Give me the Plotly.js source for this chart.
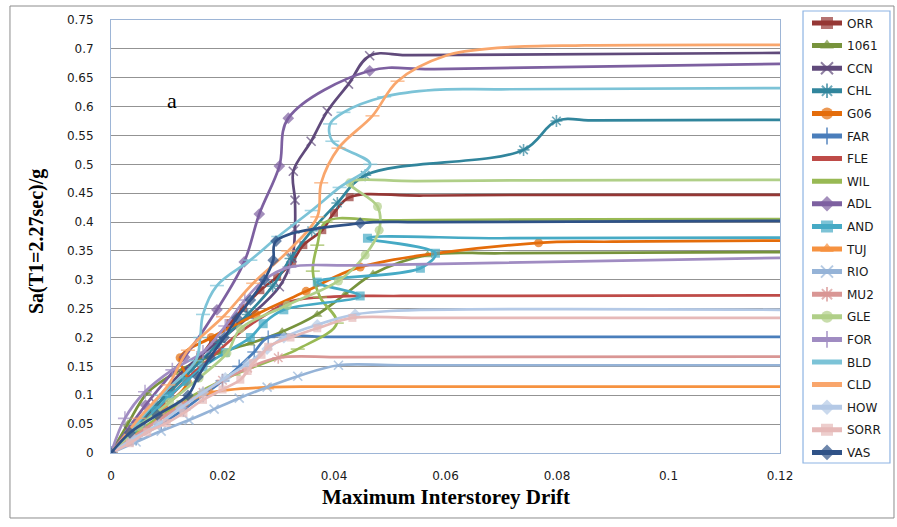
<!DOCTYPE html>
<html>
<head>
<meta charset="utf-8">
<script src="https://cdn.plot.ly/plotly-3.0.1.min.js"></script>
<style>
  html, body { margin: 0; padding: 0; background: #ffffff; }
  #chart { width: 897px; height: 527px; }
</style>
</head>
<body>
<div id="chart"></div>
<script>
// Incremental dynamic analysis curves: spectral acceleration vs. maximum interstorey drift.
// Each record lists its analysis steps followed by points along the collapse plateau.

const xTickVals = [0, 0.02, 0.04, 0.06, 0.08, 0.1, 0.12];
const xTickText = ['0', '0.02', '0.04', '0.06', '0.08', '0.1', '0.12'];
const yTickVals = [0, 0.05, 0.1, 0.15, 0.2, 0.25, 0.3, 0.35, 0.4, 0.45, 0.5, 0.55, 0.6, 0.65, 0.7, 0.75];
const yTickText = ['0', '0.05', '0.1', '0.15', '0.2', '0.25', '0.3', '0.35', '0.4', '0.45', '0.5', '0.55', '0.6', '0.65', '0.7', '0.75'];

const recordNames = ['ORR', '1061', 'CCN', 'CHL', 'G06', 'FAR', 'FLE', 'WIL', 'ADL', 'AND',
                     'TUJ', 'RIO', 'MU2', 'GLE', 'FOR', 'BLD', 'CLD', 'HOW', 'SORR', 'VAS'];

const ORR_drift = [0, 0.0028, 0.0055, 0.0082, 0.0108, 0.0134, 0.016, 0.0183, 0.0214, 0.0237, 0.0268, 0.0298, 0.0325, 0.0345, 0.0379, 0.04, 0.0428, 0.056, 0.12];
const ORR_sa    = [0, 0.028, 0.055, 0.083, 0.111, 0.138, 0.166, 0.196, 0.225, 0.251, 0.282, 0.305, 0.331, 0.36, 0.386, 0.416, 0.443, 0.446, 0.447];

const R1061_drift = [0, 0.003, 0.0065, 0.0115, 0.016, 0.0196, 0.025, 0.0307, 0.037, 0.042, 0.047, 0.0568, 0.07, 0.12];
const R1061_sa    = [0, 0.05, 0.104, 0.139, 0.16, 0.174, 0.19, 0.21, 0.24, 0.275, 0.31, 0.343, 0.346, 0.348];

const CCN_drift = [0, 0.0032, 0.0078, 0.0125, 0.0185, 0.025, 0.0302, 0.0325, 0.033, 0.033, 0.0327, 0.0359, 0.0388, 0.0426, 0.0464, 0.054, 0.12];
const CCN_sa    = [0, 0.038, 0.088, 0.138, 0.188, 0.238, 0.288, 0.338, 0.388, 0.438, 0.488, 0.54, 0.592, 0.639, 0.688, 0.689, 0.693];

const CHL_drift = [0, 0.0045, 0.0095, 0.0145, 0.0195, 0.0245, 0.029, 0.0322, 0.036, 0.0406, 0.0456, 0.074, 0.0799, 0.087, 0.12];
const CHL_sa    = [0, 0.048, 0.096, 0.144, 0.192, 0.24, 0.289, 0.337, 0.385, 0.433, 0.481, 0.525, 0.575, 0.576, 0.577];

const G06_drift = [0, 0.004, 0.0095, 0.0137, 0.0124, 0.018, 0.026, 0.035, 0.0447, 0.0767, 0.09, 0.12];
const G06_sa    = [0, 0.04, 0.08, 0.123, 0.165, 0.2, 0.24, 0.28, 0.322, 0.364, 0.366, 0.368];

const FAR_drift = [0, 0.0045, 0.009, 0.013, 0.0165, 0.02, 0.023, 0.0257, 0.0282, 0.04, 0.12];
const FAR_sa    = [0, 0.025, 0.05, 0.075, 0.1, 0.125, 0.15, 0.175, 0.2, 0.201, 0.201];

const FLE_drift = [0, 0.004, 0.0075, 0.011, 0.0145, 0.0185, 0.0225, 0.0275, 0.032, 0.04, 0.052, 0.12];
const FLE_sa    = [0, 0.034, 0.068, 0.102, 0.136, 0.17, 0.204, 0.238, 0.262, 0.271, 0.272, 0.273];

const WIL_drift = [0, 0.006, 0.013, 0.022, 0.0335, 0.0405, 0.0375, 0.0362, 0.037, 0.0385, 0.05, 0.12];
const WIL_sa    = [0, 0.045, 0.09, 0.135, 0.18, 0.225, 0.27, 0.315, 0.36, 0.4, 0.403, 0.405];

const ADL_drift = [0, 0.0062, 0.0132, 0.019, 0.0239, 0.0266, 0.0302, 0.0318, 0.0464, 0.058, 0.12];
const ADL_sa    = [0, 0.083, 0.166, 0.248, 0.331, 0.414, 0.497, 0.58, 0.662, 0.665, 0.674];

const AND_drift = [0, 0.003, 0.0055, 0.008, 0.0105, 0.0135, 0.0165, 0.0205, 0.025, 0.0273, 0.031, 0.0447, 0.037, 0.0555, 0.0582, 0.046, 0.07, 0.12];
const AND_sa    = [0, 0.025, 0.05, 0.074, 0.099, 0.124, 0.149, 0.174, 0.2, 0.224, 0.248, 0.272, 0.296, 0.32, 0.346, 0.372, 0.372, 0.373];

const TUJ_drift = [0, 0.004, 0.0085, 0.013, 0.018, 0.0284, 0.04, 0.12];
const TUJ_sa    = [0, 0.028, 0.057, 0.085, 0.105, 0.114, 0.115, 0.115];

const RIO_drift = [0, 0.0045, 0.009, 0.014, 0.0185, 0.023, 0.028, 0.0335, 0.0408, 0.052, 0.12];
const RIO_sa    = [0, 0.019, 0.038, 0.057, 0.076, 0.095, 0.114, 0.133, 0.152, 0.152, 0.152];

const MU2_drift = [0, 0.003, 0.0062, 0.0095, 0.013, 0.0165, 0.02, 0.0245, 0.03, 0.042, 0.12];
const MU2_sa    = [0, 0.021, 0.042, 0.063, 0.084, 0.105, 0.126, 0.147, 0.165, 0.166, 0.167];

const GLE_drift = [0, 0.005, 0.0105, 0.0158, 0.0208, 0.0232, 0.0316, 0.0408, 0.0456, 0.0481, 0.0478, 0.0428, 0.055, 0.12];
const GLE_sa    = [0, 0.046, 0.088, 0.13, 0.173, 0.215, 0.256, 0.298, 0.343, 0.386, 0.427, 0.468, 0.471, 0.473];

const FOR_drift = [0, 0.0025, 0.0061, 0.011, 0.0165, 0.0205, 0.024, 0.0275, 0.032, 0.044, 0.12];
const FOR_sa    = [0, 0.06, 0.106, 0.144, 0.175, 0.22, 0.265, 0.3, 0.322, 0.325, 0.338];

const BLD_drift = [0, 0.0045, 0.009, 0.0152, 0.016, 0.0165, 0.019, 0.025, 0.03, 0.036, 0.041, 0.0465, 0.0397, 0.0393, 0.0417, 0.049, 0.058, 0.07, 0.12];
const BLD_sa    = [0, 0.05, 0.1, 0.16, 0.2, 0.24, 0.29, 0.334, 0.375, 0.42, 0.46, 0.5, 0.54, 0.57, 0.59, 0.617, 0.629, 0.63, 0.632];

const CLD_drift = [0, 0.005, 0.0103, 0.0138, 0.0201, 0.0255, 0.0318, 0.037, 0.0377, 0.0408, 0.0469, 0.0514, 0.06, 0.07, 0.085, 0.12];
const CLD_sa    = [0, 0.06, 0.118, 0.178, 0.236, 0.294, 0.35, 0.409, 0.468, 0.528, 0.584, 0.644, 0.688, 0.702, 0.706, 0.707];

const HOW_drift = [0, 0.004, 0.0085, 0.0125, 0.0165, 0.0205, 0.0245, 0.028, 0.031, 0.037, 0.0438, 0.05, 0.12];
const HOW_sa    = [0, 0.025, 0.05, 0.078, 0.105, 0.13, 0.155, 0.18, 0.2, 0.222, 0.24, 0.246, 0.248];

const SORR_drift = [0, 0.0034, 0.0065, 0.01, 0.013, 0.0165, 0.02, 0.0232, 0.0245, 0.0255, 0.027, 0.0282, 0.0322, 0.037, 0.0433, 0.055, 0.12];
const SORR_sa    = [0, 0.017, 0.036, 0.052, 0.069, 0.092, 0.11, 0.127, 0.142, 0.156, 0.17, 0.184, 0.2, 0.216, 0.234, 0.234, 0.234];

const VAS_drift = [0, 0.0034, 0.0083, 0.0138, 0.0156, 0.0178, 0.0203, 0.0226, 0.025, 0.0275, 0.0291, 0.0296, 0.0447, 0.056, 0.12];
const VAS_sa    = [0, 0.035, 0.066, 0.1, 0.132, 0.166, 0.2, 0.234, 0.265, 0.3, 0.334, 0.367, 0.398, 0.4, 0.402];

const driftSeries = [ORR_drift, R1061_drift, CCN_drift, CHL_drift, G06_drift, FAR_drift, FLE_drift, WIL_drift, ADL_drift, AND_drift,
                     TUJ_drift, RIO_drift, MU2_drift, GLE_drift, FOR_drift, BLD_drift, CLD_drift, HOW_drift, SORR_drift, VAS_drift];
const saSeries = [ORR_sa, R1061_sa, CCN_sa, CHL_sa, G06_sa, FAR_sa, FLE_sa, WIL_sa, ADL_sa, AND_sa,
                  TUJ_sa, RIO_sa, MU2_sa, GLE_sa, FOR_sa, BLD_sa, CLD_sa, HOW_sa, SORR_sa, VAS_sa];

// Number of trailing plateau points per record (drawn as line only, no marker)
const plateauPoints = [2, 2, 2, 2, 2, 2, 3, 2, 2, 2, 2, 2, 2, 2, 2, 2, 4, 2, 2, 2];

// Line colour, marker symbol and marker size per record
const seriesStyle = [
  { color: '#953735', symbol: 'square', size: 8 },
  { color: '#77933C', symbol: 'triangle-up', size: 9 },
  { color: '#604A7B', symbol: 'x-thin-open', size: 9 },
  { color: '#31859C', symbol: 'asterisk-open', size: 10 },
  { color: '#E46C0A', symbol: 'circle', size: 9 },
  { color: '#4A7EBB', symbol: 'cross-thin-open', size: 10 },
  { color: '#BE4B48', symbol: null, size: 0 },
  { color: '#98B954', symbol: 'line-ew-open', size: 10 },
  { color: '#7D60A0', symbol: 'diamond', size: 9 },
  { color: '#46AAC5', symbol: 'square', size: 9 },
  { color: '#F69240', symbol: 'triangle-up', size: 9 },
  { color: '#95B3D7', symbol: 'x-thin-open', size: 9 },
  { color: '#D99694', symbol: 'asterisk-open', size: 10 },
  { color: '#B0CF88', symbol: 'circle', size: 9 },
  { color: '#A08CC2', symbol: 'cross-thin-open', size: 10 },
  { color: '#7CC3D7', symbol: 'line-ew-open', size: 10 },
  { color: '#F9A66C', symbol: 'line-ew-open', size: 10 },
  { color: '#B4C9E6', symbol: 'diamond', size: 9 },
  { color: '#E6B9B8', symbol: 'square', size: 8 },
  { color: '#2F5287', symbol: 'diamond', size: 9 }
];

const traces = recordNames.map(function (name, i) {
  const st = seriesStyle[i];
  const xs = driftSeries[i];
  const ys = saSeries[i];
  const line = { color: st.color, width: 2.7, shape: 'spline', smoothing: 1 };
  const base = {
    type: 'scatter',
    name: name,
    legendgroup: name,
    x: xs,
    y: ys,
    line: line,
    cliponaxis: true,
    hoverinfo: 'skip'
  };
  if (!st.symbol) {
    base.mode = 'lines';
    return base;
  }
  const nMarked = xs.length - plateauPoints[i];
  const isOpen = /open$/.test(st.symbol);
  base.mode = 'lines+markers';
  base.marker = {
    symbol: st.symbol,
    size: xs.map(function (_, k) { return k < nMarked ? st.size : 0; }),
    color: st.color,
    line: { color: st.color, width: isOpen ? 1.6 : 0 }
  };
  return base;
});

const tickFont = { family: 'DejaVu Sans, Verdana, sans-serif', size: 12, color: '#1a1a1a' };
const frameBlue = '#9DB5D6';

const layout = {
  width: 897,
  height: 527,
  autosize: false,
  margin: { l: 111, r: 117, t: 20, b: 74, pad: 0 },
  paper_bgcolor: '#ffffff',
  plot_bgcolor: '#ffffff',
  showlegend: true,
  legend: {
    xref: 'container', yref: 'container',
    x: 807 / 897, y: 1 - 8.5 / 527,
    xanchor: 'left', yanchor: 'top',
    bgcolor: 'rgba(0,0,0,0)',
    borderwidth: 0,
    font: { family: 'DejaVu Sans, Verdana, sans-serif', size: 12, color: '#1a1a1a' },
    tracegroupgap: 3.6,
    traceorder: 'grouped',
    itemwidth: 30,
    itemsizing: 'constant',
    maxheight: 600
  },
  xaxis: {
    range: [0, 0.12],
    tickmode: 'array',
    tickvals: xTickVals,
    ticktext: xTickText,
    showgrid: false,
    zeroline: false,
    showline: true,
    linecolor: frameBlue,
    linewidth: 1,
    mirror: true,
    ticks: 'outside',
    ticklen: 12,
    tickcolor: 'rgba(0,0,0,0)',
    tickfont: tickFont,
    fixedrange: true
  },
  yaxis: {
    range: [0, 0.75],
    tickmode: 'array',
    tickvals: yTickVals,
    ticktext: yTickText,
    showgrid: true,
    gridcolor: '#939393',
    gridwidth: 1,
    zeroline: false,
    showline: true,
    linecolor: frameBlue,
    linewidth: 1,
    mirror: true,
    ticks: 'outside',
    ticklen: 14,
    tickcolor: 'rgba(0,0,0,0)',
    tickfont: tickFont,
    fixedrange: true
  },
  shapes: [
    // panel label backdrop
    { type: 'rect', xref: 'paper', yref: 'paper', x0: 0.0015, x1: 0.136, y0: 0.774, y1: 0.894,
      fillcolor: '#ffffff', line: { width: 0 }, layer: 'between' },
    // outer chart frame
    { type: 'rect', xref: 'paper', yref: 'paper', x0: -0.151, x1: 1.1704, y0: -0.1501, y1: 1.0323,
      fillcolor: 'rgba(0,0,0,0)', line: { color: '#8C8C8C', width: 1 }, layer: 'above' },
    // legend frame
    { type: 'rect', xref: 'paper', yref: 'paper', x0: 1.0344, x1: 1.1644, y0: -0.0231, y1: 1.0208,
      fillcolor: 'rgba(0,0,0,0)', line: { color: '#8EB4E3', width: 1.2 }, layer: 'above' }
  ],
  annotations: [
    { text: 'a', xref: 'paper', yref: 'paper', x: 0.0912, y: 0.815, showarrow: false,
      xanchor: 'center', yanchor: 'middle',
      font: { family: 'Liberation Serif, Times New Roman, serif', size: 22, color: '#000000' } },
    { text: '<b>Maximum Interstorey Drift</b>', xref: 'paper', yref: 'paper', x: 0.5, y: -0.1016,
      showarrow: false, xanchor: 'center', yanchor: 'middle',
      font: { family: 'Liberation Serif, Times New Roman, serif', size: 21, color: '#000000' } },
    { text: '<b>Sa(T1=2.27sec)/g</b>', xref: 'paper', yref: 'paper', x: -0.1106, y: 0.4873,
      showarrow: false, xanchor: 'center', yanchor: 'middle', textangle: -90,
      font: { family: 'Liberation Serif, Times New Roman, serif', size: 20, color: '#000000' } }
  ]
};

Plotly.newPlot('chart', traces, layout, { staticPlot: true, displayModeBar: false });
</script>
</body>
</html>
